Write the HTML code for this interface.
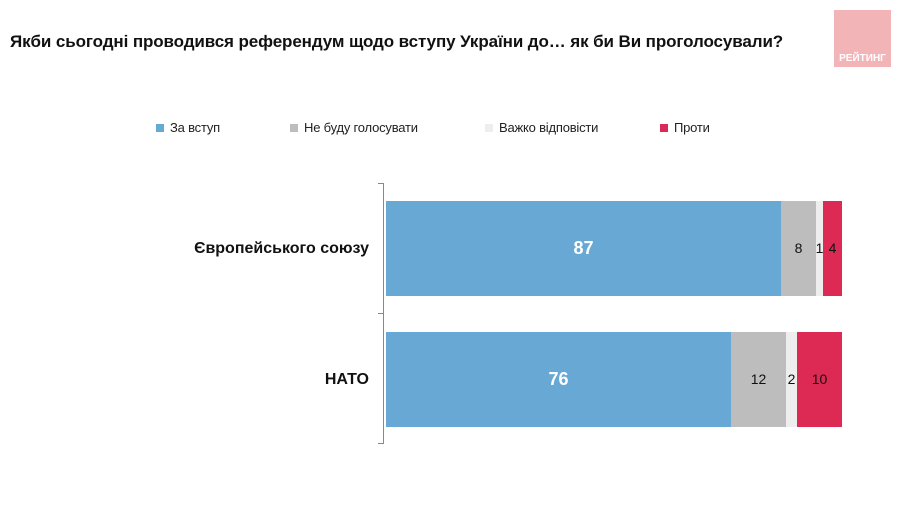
<!DOCTYPE html><html><head><style>
body{margin:0;width:900px;height:513px;background:#fff;font-family:"Liberation Sans",Arial,sans-serif;position:relative;overflow:hidden}
.a{position:absolute}
.t{font-size:17px;font-weight:bold;color:#111;left:10px;top:32px;letter-spacing:-0.1px}
.lg{font-size:13px;color:#222;top:120px;letter-spacing:-0.2px}
.sq{position:absolute;width:8px;height:8px;top:124px}
.b{position:absolute;height:95px}
.n{position:absolute;font-size:14px;color:#111;text-align:center;line-height:95px}
</style></head><body>
<div class="a t">Якби сьогодні проводився референдум щодо вступу України до… як би Ви проголосували?</div>
<div class="a" style="left:834px;top:10px;width:57px;height:57px;background:#f3b4b8"></div>
<div class="a" style="left:834px;top:53px;width:57px;text-align:center;color:#fff;font-size:10px;font-weight:bold">РЕЙТИНГ</div>
<div class="sq" style="left:156px;background:#67a8d4"></div><div class="a lg" style="left:170px">За вступ</div>
<div class="sq" style="left:290px;background:#bdbdbd"></div><div class="a lg" style="left:304px">Не буду голосувати</div>
<div class="sq" style="left:485px;background:#eeeeee"></div><div class="a lg" style="left:499px">Важко відповісти</div>
<div class="sq" style="left:660px;background:#dd2a55"></div><div class="a lg" style="left:674px">Проти</div>
<div class="a" style="left:383px;top:183px;width:1px;height:261px;background:#888"></div>
<div class="a" style="left:378px;top:183px;width:5px;height:1px;background:#888"></div>
<div class="a" style="left:378px;top:313px;width:5px;height:1px;background:#888"></div>
<div class="a" style="left:378px;top:443px;width:5px;height:1px;background:#888"></div>
<div class="a" style="left:150px;top:240px;width:219px;text-align:right;font-size:16px;font-weight:bold;color:#111">Європейського союзу</div>
<div class="a" style="left:150px;top:371px;width:219px;text-align:right;font-size:16px;font-weight:bold;color:#111">НАТО</div>
<div class="b" style="top:201px;left:386px;width:395px;background:#67a8d4"></div>
<div class="b" style="top:201px;left:781px;width:35px;background:#bdbdbd"></div>
<div class="b" style="top:201px;left:816px;width:7px;background:#eeeeee"></div>
<div class="b" style="top:201px;left:823px;width:19px;background:#dd2a55"></div>
<div class="n" style="top:201px;left:386px;width:395px;color:#fff;font-weight:bold;font-size:18px">87</div>
<div class="n" style="top:201px;left:781px;width:35px">8</div>
<div class="n" style="top:201px;left:814px;width:11px">1</div>
<div class="n" style="top:201px;left:823px;width:19px">4</div>
<div class="b" style="top:332px;left:386px;width:345px;background:#67a8d4"></div>
<div class="b" style="top:332px;left:731px;width:55px;background:#bdbdbd"></div>
<div class="b" style="top:332px;left:786px;width:11px;background:#eeeeee"></div>
<div class="b" style="top:332px;left:797px;width:45px;background:#dd2a55"></div>
<div class="n" style="top:332px;left:386px;width:345px;color:#fff;font-weight:bold;font-size:18px">76</div>
<div class="n" style="top:332px;left:731px;width:55px">12</div>
<div class="n" style="top:332px;left:786px;width:11px">2</div>
<div class="n" style="top:332px;left:797px;width:45px">10</div>
</body></html>
